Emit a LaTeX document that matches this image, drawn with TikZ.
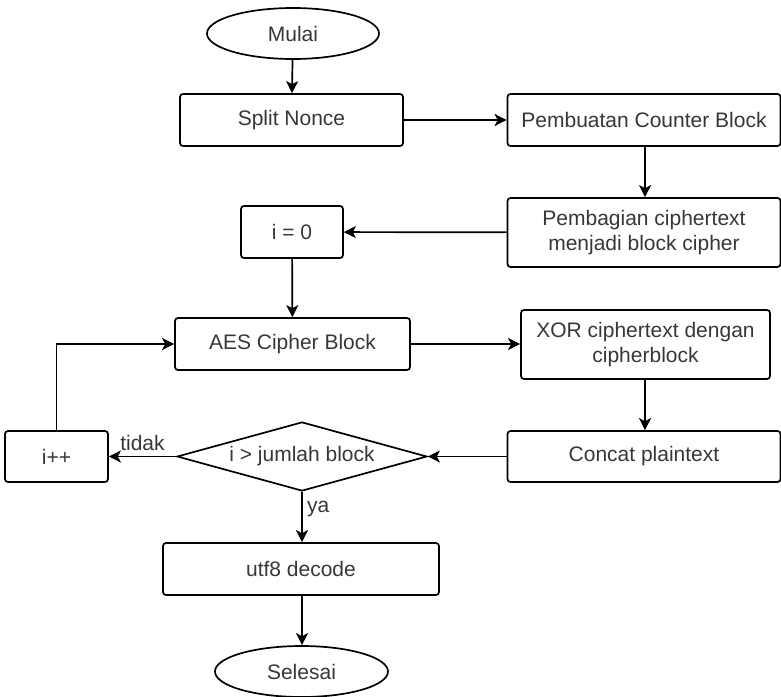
\documentclass[tikz,border=0pt]{standalone}
\usepackage{fontspec}
\setmainfont{Liberation Sans}
\usetikzlibrary{shapes.geometric,arrows.meta}
\definecolor{txt}{RGB}{55,55,55}
\begin{document}
\begin{tikzpicture}[x=1pt,y=-1pt,
  every node/.style={font=\fontsize{21}{24.5}\selectfont, text=txt},
  proc/.style={draw=black, line width=1.7pt, rounded corners=3pt, inner sep=0pt, align=center},
  term/.style={draw=black, line width=1.7pt, ellipse, inner sep=0pt, minimum width=172pt, minimum height=51pt},
  decision/.style={draw=black, line width=1.7pt, diamond, aspect=3.6, inner sep=0pt, minimum width=250pt, minimum height=69pt},
  flow/.style={draw=black, line width=1.7pt, -{Stealth[length=12pt,width=12pt,inset=3pt]}},
  lbl/.style={font=\fontsize{21}{24.5}\selectfont}
]
\useasboundingbox (0,0) rectangle (781,696);

% process steps
\node[term] (start) at (293,33.5) {Mulai};
\node[proc, minimum width=223pt, minimum height=52pt] (split) at (291.5,120) {Split Nonce};
\node[proc, minimum width=273pt, minimum height=52pt] (counter) at (644,120) {Pembuatan Counter Block};
\node[proc, minimum width=273pt, minimum height=69pt] (divide) at (644,232.5) {Pembagian ciphertext\\menjadi block cipher};
\node[proc, minimum width=102pt, minimum height=52pt] (init) at (292,232) {i = 0};
\node[proc, minimum width=235pt, minimum height=52pt] (aes) at (292.5,344) {AES Cipher Block};
\node[proc, minimum width=249pt, minimum height=69pt] (xor) at (645.5,344.5) {XOR ciphertext dengan\\cipherblock};
\node[proc, minimum width=273pt, minimum height=51pt] (concat) at (644,456.5) {Concat plaintext};
\node[decision] (check) at (302,456.5) {i > jumlah block};
\node[proc, minimum width=103pt, minimum height=51pt] (inc) at (56.5,456.5) {i++};
\node[proc, minimum width=276pt, minimum height=52pt] (decode) at (301,569) {utf8 decode};
\node[term, minimum width=173pt] (stop) at (301.5,671.5) {Selesai};

% connectors
\draw[flow] (start) -- (split);
\draw[flow] (split) -- (counter);
\draw[flow] (counter.south -| 645,0) -- (divide.north -| 645,0);
\draw[flow] (divide) -- (init);
\draw[flow] (init) -- (aes);
\draw[flow] (aes) -- (xor.west |- aes);
\draw[flow] (xor.south -| 645,0) -- (concat.north -| 645,0);
\draw[flow] (concat) -- (check);
\draw[flow] (check) -- node[lbl, above, pos=0.5, yshift=2pt] {tidak} (inc);
\draw[flow] (inc.north) |- (aes.west);
\draw[flow] (check.south) -- node[lbl, right, pos=0.35, xshift=1pt] {ya} (decode.north -| check.south);
\draw[flow] (decode.south -| check.south) -- (stop.north -| check.south);
\end{tikzpicture}
\end{document}
